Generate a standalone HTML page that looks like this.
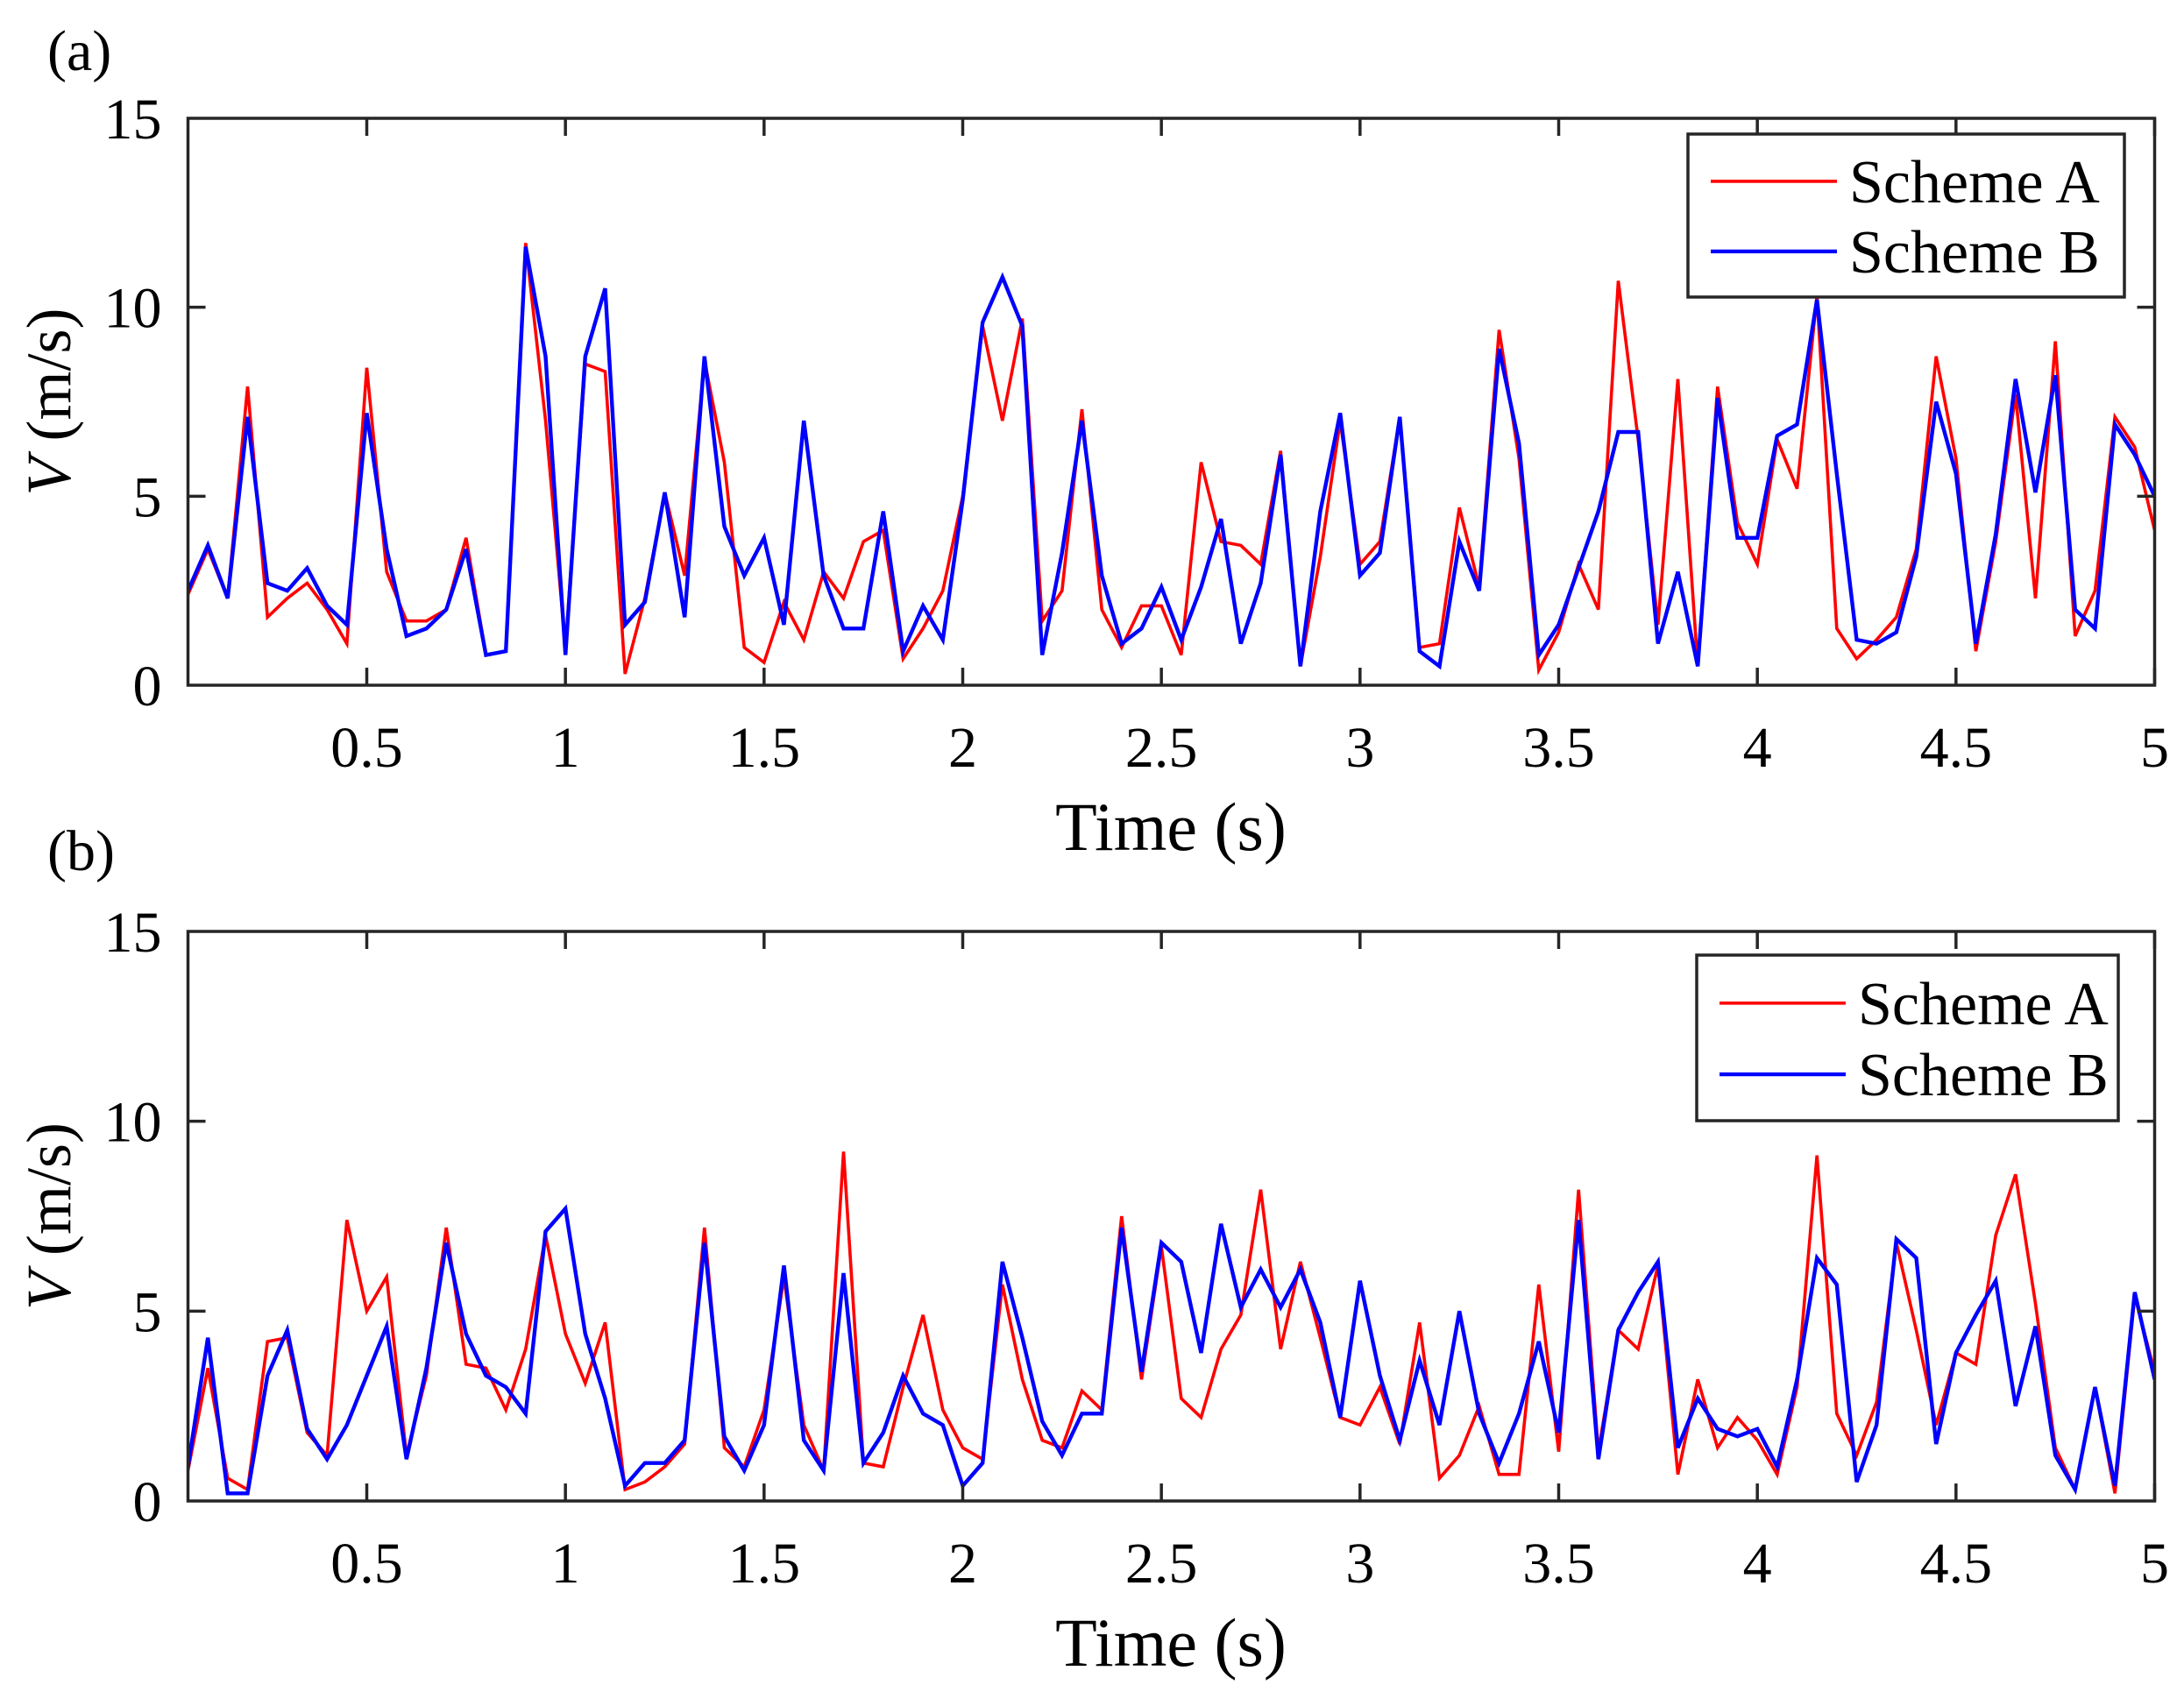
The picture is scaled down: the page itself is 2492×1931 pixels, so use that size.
<!DOCTYPE html>
<html><head><meta charset="utf-8"><style>
html,body{margin:0;padding:0;background:#fff;}
svg{display:block;}
text{font-family:"Liberation Serif",serif;fill:#000;}
</style></head><body>
<svg id="s" width="2492" height="1931" viewBox="0 0 2492 1931" xmlns="http://www.w3.org/2000/svg"></svg>
<script>
const A1=[2.4,3.6,2.3,7.9,1.8,2.3,2.7,2.0,1.1,8.4,3.0,1.7,1.7,2.0,3.9,0.8,0.9,11.7,7.0,1.0,8.5,8.3,0.3,2.3,5.1,2.9,8.6,5.9,1.0,0.6,2.2,1.2,3.0,2.3,3.8,4.1,0.7,1.5,2.5,5.0,9.5,7.0,9.7,1.7,2.5,7.3,2.0,1.0,2.1,2.1,0.8,5.9,3.8,3.7,3.2,6.2,0.5,3.4,7.0,3.2,3.8,7.1,1.0,1.1,4.7,2.6,9.4,6.0,0.4,1.4,3.2,2.0,10.7,6.5,1.6,8.1,0.5,7.9,4.3,3.2,6.5,5.2,10.3,1.5,0.7,1.2,1.8,3.6,8.7,6.0,0.9,3.8,7.7,2.3,9.1,1.3,2.5,7.1,6.3,4.1];
const B1=[2.5,3.7,2.3,7.1,2.7,2.5,3.1,2.1,1.6,7.2,3.6,1.3,1.5,2.0,3.6,0.8,0.9,11.6,8.7,0.8,8.7,10.5,1.6,2.2,5.1,1.8,8.7,4.2,2.9,3.9,1.6,7.0,2.9,1.5,1.5,4.6,0.9,2.1,1.2,4.9,9.6,10.8,9.5,0.8,3.5,7.0,2.9,1.1,1.5,2.6,1.2,2.6,4.4,1.1,2.7,6.1,0.5,4.6,7.2,2.9,3.5,7.1,0.9,0.5,3.8,2.5,8.9,6.4,0.8,1.6,3.1,4.6,6.7,6.7,1.1,3.0,0.5,7.6,3.9,3.9,6.6,6.9,10.2,5.6,1.2,1.1,1.4,3.4,7.5,5.6,1.1,4.0,8.1,5.1,8.2,2.0,1.5,6.9,6.1,5.0];
const A2=[0.8,3.5,0.6,0.3,4.2,4.3,1.8,1.2,7.4,5.0,5.9,1.2,3.3,7.2,3.6,3.5,2.4,4.0,7.0,4.4,3.1,4.7,0.3,0.5,0.9,1.5,7.2,1.4,0.9,2.4,5.9,2.0,0.8,9.2,1.0,0.9,3.0,4.9,2.4,1.4,1.1,5.7,3.2,1.6,1.4,2.9,2.4,7.5,3.2,6.7,2.7,2.2,4.0,4.9,8.2,4.0,6.3,4.3,2.2,2.0,3.0,1.5,4.7,0.6,1.2,2.5,0.7,0.7,5.7,1.3,8.2,1.3,4.5,4.0,6.2,0.7,3.2,1.4,2.2,1.6,0.7,3.0,9.1,2.3,1.2,2.6,6.8,4.5,2.0,3.9,3.6,7.0,8.6,5.2,1.4,0.3,3.0,0.2,5.4,3.4];
const B2=[0.9,4.3,0.2,0.2,3.3,4.5,1.9,1.1,2.0,3.3,4.6,1.1,3.5,6.8,4.4,3.3,3.0,2.3,7.1,7.7,4.4,2.7,0.4,1.0,1.0,1.6,6.8,1.7,0.8,2.0,6.2,1.6,0.8,6.0,1.0,1.8,3.3,2.3,2.0,0.4,1.0,6.3,4.3,2.1,1.2,2.3,2.3,7.2,3.4,6.8,6.3,3.9,7.3,5.1,6.1,5.1,6.1,4.7,2.2,5.8,3.3,1.6,3.7,2.0,5.0,2.3,1.0,2.3,4.2,1.8,7.4,1.1,4.5,5.5,6.3,1.4,2.7,1.9,1.7,1.9,0.9,3.2,6.4,5.7,0.5,2.0,6.9,6.4,1.5,3.9,4.9,5.8,2.5,4.6,1.2,0.3,3.0,0.4,5.5,3.2];
const L=214.5,R=2458.5;
let h='';
function X(t){return L+(t-0.05)/(4.95)*(R-L);}
function panel(T,B,A,Bd,lab,laby,lg){
  const Y=v=>B-v/15*(B-T);
  h+=`<clipPath id="c${T}"><rect x="${L}" y="${T}" width="${R-L}" height="${B-T}"/></clipPath>`;
  let pa='',pb='';
  for(let i=0;i<A.length;i++){const t=0.05*(i+1);pa+=X(t).toFixed(1)+','+Y(A[i]).toFixed(1)+' ';pb+=X(t).toFixed(1)+','+Y(Bd[i]).toFixed(1)+' ';}
  h+=`<g clip-path="url(#c${T})"><polyline points="${pa}" fill="none" stroke="#f00" stroke-width="3.6"/><polyline points="${pb}" fill="none" stroke="#00f" stroke-width="4.4"/></g>`;
  h+=`<rect x="${L}" y="${T}" width="${R-L}" height="${B-T}" fill="none" stroke="#262626" stroke-width="3.5"/>`;
  for(let k=1;k<=10;k++){const t=k*0.5,x=X(t);
    h+=`<line x1="${x}" y1="${B}" x2="${x}" y2="${B-20}" stroke="#262626" stroke-width="3.5"/><line x1="${x}" y1="${T}" x2="${x}" y2="${T+20}" stroke="#262626" stroke-width="3.5"/>`;
    h+=`<text x="${x}" y="${B+93}" font-size="66" text-anchor="middle">${t}</text>`;}
  for(let v=0;v<=15;v+=5){const y=Y(v);
    if(v>0&&v<15)h+=`<line x1="${L}" y1="${y}" x2="${L+20}" y2="${y}" stroke="#262626" stroke-width="3.5"/><line x1="${R}" y1="${y}" x2="${R-20}" y2="${y}" stroke="#262626" stroke-width="3.5"/>`;
    h+=`<text x="${L-30}" y="${y+23}" font-size="66" text-anchor="end">${v}</text>`;}
  h+=`<text x="1336" y="${B+188}" font-size="78" text-anchor="middle">Time (s)</text>`;
  const cy=(T+B)/2;
  h+=`<text transform="translate(80,${cy}) rotate(-90)" font-size="72" text-anchor="middle"><tspan font-style="italic">V</tspan> (m/s)</text>`;
  h+=`<text x="54" y="${laby}" font-size="66">${lab}</text>`;
  const [lx,ly,lw,lh]=lg;
  h+=`<rect x="${lx}" y="${ly}" width="${lw}" height="${lh}" fill="#fff" stroke="#262626" stroke-width="3.5"/>`;
  const r1=ly+lh*0.29,r2=ly+lh*0.72;
  h+=`<line x1="${lx+26}" y1="${r1}" x2="${lx+170}" y2="${r1}" stroke="#f00" stroke-width="3.6"/><line x1="${lx+26}" y1="${r2}" x2="${lx+170}" y2="${r2}" stroke="#00f" stroke-width="4.4"/>`;
  h+=`<text x="${lx+184}" y="${r1+24}" font-size="70">Scheme A</text><text x="${lx+184}" y="${r2+24}" font-size="70">Scheme B</text>`;
}
panel(135,782,A1,B1,'(a)',80,[1926,153,498,186]);
panel(1063,1713,A2,B2,'(b)',993,[1936,1090,481,189]);
document.getElementById('s').innerHTML=h;
</script>
</body></html>
